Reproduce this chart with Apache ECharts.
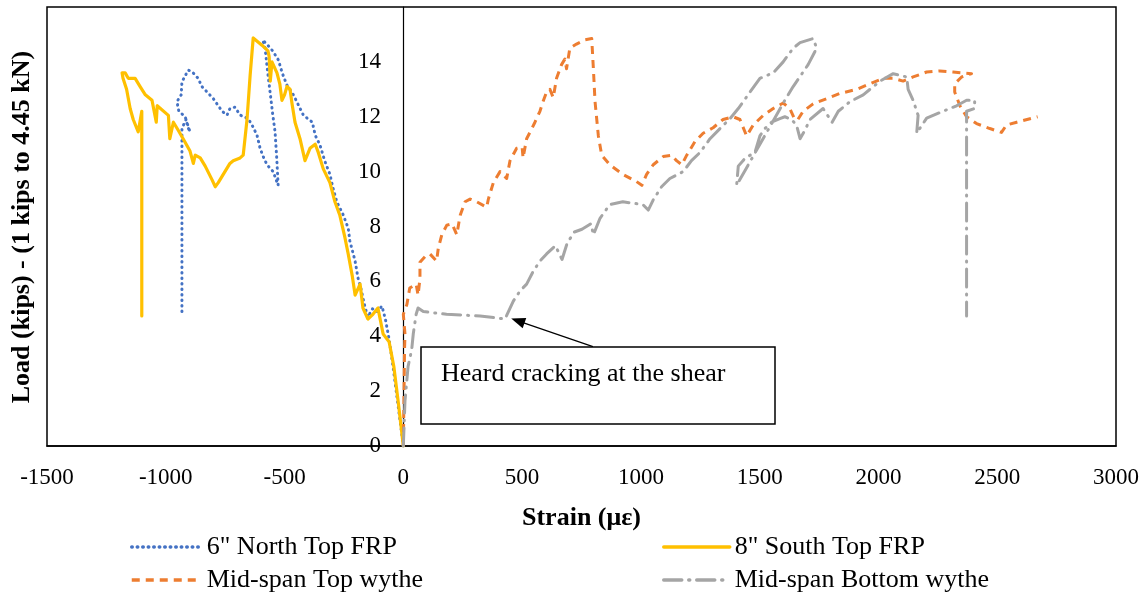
<!DOCTYPE html>
<html><head><meta charset="utf-8">
<script src="https://cdn.jsdelivr.net/npm/echarts@6/dist/echarts.min.js"></script>
<style>html,body{margin:0;padding:0;background:#fff}#c{width:1147px;height:595px}</style>
</head><body><div id="c"></div>
<script>
// ---- data (strain in microstrain, load in kips) ----
const seriesNames = ['6" North Top FRP', '8" South Top FRP', 'Mid-span Top wythe', 'Mid-span Bottom wythe'];

const northStrain = [0,-15,-30,-45,-60,-75,-90,-110,-130,-150,-165,-180,-191,-203,-225,-232,-254,-280,-296,-309,-330,-351,-371,-383,-421,-440,-463,-490,-510,-526,-550,-570,-592,
  -582,-572,-561,-550,-540,-533,-527,
  -548,-574,-590,-603,-616,-637,-653,-687,-709,-730,-742,-763,-779,-800,-826,-848,-864,-889,-905,-918,-932,-935,-953,-945,-918,-906,-898,-915,-932,-932,-932,-932,-932];
const northLoad = [0,1.0,2.0,3.0,3.9,4.6,5.1,4.9,5.0,4.7,5.2,5.8,6.13,6.74,7.47,7.94,8.44,8.9,9.4,9.9,10.37,10.97,11.33,11.8,12.06,12.4,12.8,13.15,13.6,14.07,14.4,14.6,14.8,
  14.5,13.7,12.9,12.1,11.45,10.5,9.5,
  10.0,10.25,10.55,10.85,11.33,11.7,11.93,12.06,12.35,12.3,12.06,12.2,12.4,12.66,12.9,13.1,13.4,13.64,13.7,13.5,13.27,12.8,12.55,12.2,12.0,11.6,11.45,11.9,11.57,10.0,8.0,6.0,4.8];

const southStrain = [0,-20,-40,-60,-85,-107,-128,-149,-170,-182,-203,-215,-232,-246,-267,-288,-309,-337,-358,-371,-393,-414,-435,-456,-469,-477,-490,-500,-511,-520,-532,-553,-560,-565,-570,-594,-632,
  -645,-658,-674,-687,-716,-730,-758,-779,-792,-805,-834,-855,-876,-884,-898,-927,-947,-968,-983,-989,-1036,-1040,-1058,-1086,-1108,-1129,-1158,-1171,-1184,-1180,-1165,-1150,-1137,-1116,-1101,-1101,-1101,-1101];
const southLoad = [0,1.5,2.9,3.8,4.08,5.03,4.8,4.63,5.03,5.9,5.5,6.2,7.0,7.6,8.4,8.9,9.6,10.1,10.7,11.0,10.85,10.4,11.2,11.8,12.5,13.0,13.1,12.8,12.6,13.2,13.6,14.0,13.3,14.2,14.4,14.6,14.87,
  13.5,11.9,10.6,10.5,10.4,10.3,9.9,9.6,9.45,9.7,10.2,10.5,10.6,10.3,10.75,11.2,11.5,11.8,11.2,12.05,12.4,11.8,12.6,12.8,13.1,13.4,13.4,13.6,13.6,13.4,13.0,12.3,11.9,11.45,12.2,9.0,6.0,4.74];

const topStrain = [0,3,5,7,0,15,27,54,62,70,70,91,112,140,147,162,183,205,225,239,260,281,309,351,358,379,407,435,449,477,500,504,519,540,554,575,588,603,617,631,645,666,680,687,701,729,764,793,
  800,807,821,835,869,924,981,1004,1024,1052,1094,1130,1150,1172,1193,1228,1262,1304,1346,1388,1417,1445,1473,1515,1557,1599,1627,1648,1661,1683,1725,1782,1838,1909,1964,2020,2062,2104,2146,2203,2258,2314,2392,
  2350,2321,2321,2343,2371,2413,2469,2518,2539,2582,2670];
const topLoad = [0,2,3.5,4.08,4.8,5.16,5.76,5.9,5.5,6.1,6.7,6.9,7.0,6.74,7.2,7.7,8.05,8.1,7.7,8.4,8.9,9.0,8.9,8.7,9.0,9.6,10.0,9.75,10.4,10.85,10.9,10.5,11.2,11.55,11.8,12.2,12.55,12.9,13.0,12.7,13.4,13.9,14.1,13.75,14.5,14.65,14.8,14.85,
  13.75,12.55,11.3,10.6,10.25,9.9,9.64,9.5,9.9,10.25,10.55,10.6,10.4,10.25,10.6,11.1,11.4,11.6,11.9,12.0,11.9,11.3,11.7,12.05,12.3,12.5,12.3,11.9,11.9,12.2,12.47,12.66,12.85,13.0,13.2,13.4,13.4,13.3,13.45,13.63,13.67,13.63,13.57,
  13.45,13.2,12.9,12.4,12.0,11.75,11.57,11.43,11.7,11.8,12.0];

const bottomStrain = [0,7,20,35,42,54,62,84,182,323,428,463,491,519,547,575,603,640,668,690,720,752,790,800,828,869,924,966,1008,1031,1052,1087,1122,1178,1213,1249,1291,1333,1375,1410,1431,1459,1501,1557,1599,1641,1670,1725,1740,1704,1641,1606,
  1403,1410,1440,1480,1501,1522,1550,1585,1606,1634,1655,1670,1690,1712,1767,1805,1831,1880,1936,2007,2062,2119,2125,2146,2167,2161,2203,2272,2329,2371,2405,2405,2371,2371,2371,2371];
const bottomLoad = [0,1.65,2.9,3.5,4.1,4.8,5.03,4.9,4.8,4.74,4.63,5.28,5.65,5.9,6.37,6.74,7.0,7.3,6.8,7.4,7.8,7.9,8.1,7.7,8.3,8.8,8.9,8.85,8.8,8.6,8.97,9.45,9.75,10.0,10.4,10.7,11.2,11.57,11.93,12.3,12.55,12.9,13.4,13.6,14.0,14.5,14.7,14.85,14.5,13.9,13.1,12.6,
  9.5,10.2,10.5,10.7,11.3,11.57,11.8,11.93,12.0,11.9,11.7,11.2,11.5,11.9,12.3,11.8,12.2,12.55,12.8,13.3,13.57,13.45,13.0,12.6,12.05,11.4,11.95,12.2,12.4,12.6,12.6,12.3,12.2,9.0,6.0,4.74];

const annotationText = 'Heard cracking at the shear';

function zip(xs, ys){ return xs.map((x,i)=>[x, ys[i]]); }

const FONT = "'Liberation Serif','Times New Roman',serif";
const chart = echarts.init(document.getElementById('c'));

function lineSeries(name, xs, ys, color, type, width, cap){
  return {
    name, type:'line', data: zip(xs, ys), showSymbol:false, symbol:'none',
    smooth:false, animation:false,
    lineStyle:{color, width, type, cap: cap||'butt', join:'round'},
    itemStyle:{color}
  };
}

const sBottom = lineSeries(seriesNames[3], bottomStrain, bottomLoad, '#A5A5A5', [18,7,1,7], 3, 'round');
sBottom.markLine = {
  silent:true, animation:false,
  symbol:['none','triangle'], symbolSize:[11,14],
  label:{show:false},
  lineStyle:{color:'#000', width:1.2, type:'solid'},
  data:[[{coord:[798,3.62]},{coord:[482,4.56]}]]
};

function oneLegend(name, left, top, w){
  return {data:[name], left, top, itemWidth:w, itemHeight:14, selectedMode:false,
    itemStyle:{opacity:0},
    lineStyle:{width:3.5},
    textStyle:{fontFamily:FONT, fontSize:26, color:'#000'}};
}

chart.setOption({
  animation:false,
  backgroundColor:'#fff',
  textStyle:{fontFamily:FONT},
  grid:{left:47, top:7, width:1069, height:439, show:true, borderColor:'#000', borderWidth:1.5, backgroundColor:'transparent'},
  xAxis:{
    type:'value', min:-1500, max:3000, interval:500,
    name:'Strain (με)', nameLocation:'middle', nameGap:59,
    nameTextStyle:{fontFamily:FONT, fontWeight:'bold', fontSize:26, color:'#000'},
    axisLine:{show:true, onZero:false, lineStyle:{color:'#000', width:1.5}},
    axisTick:{show:false},
    axisLabel:{fontFamily:FONT, fontSize:23, color:'#000', margin:20, formatter:(v)=>String(v)},
    splitLine:{show:false}
  },
  yAxis:{
    type:'value', min:0, max:16, interval:2,
    offset:-356,
    axisLine:{show:true, onZero:false, lineStyle:{color:'#000', width:1.2}},
    axisTick:{show:false},
    axisLabel:{fontFamily:FONT, fontSize:23, color:'#000', margin:22, showMaxLabel:false},
    splitLine:{show:false}
  },
  legend:[
    oneLegend(seriesNames[0], 125, 529, 70),
    oneLegend(seriesNames[2], 125, 562, 70),
    oneLegend(seriesNames[1], 657, 529, 66),
    oneLegend(seriesNames[3], 657, 562, 66)
  ],
  graphic:[
    {type:'text', x:22, y:227, rotation:Math.PI/2, z:10,
     style:{text:'Load (kips) - (1 kips to 4.45 kN)', font:"bold 26px 'Liberation Serif'", fill:'#000', align:'center', verticalAlign:'middle'}},
    {type:'rect', z:10, shape:{x:421, y:347, width:354, height:77}, style:{fill:'#fff', stroke:'#000', lineWidth:1.5}},
    {type:'text', z:11, x:441, y:374, style:{text:annotationText, font:"26px 'Liberation Serif'", fill:'#000', align:'left', verticalAlign:'middle'}}
  ],
  series:[
    lineSeries(seriesNames[0], northStrain, northLoad, '#4472C4', [0.5,5], 3, 'round'),
    lineSeries(seriesNames[1], southStrain, southLoad, '#FFC000', 'solid', 3.2, 'round'),
    lineSeries(seriesNames[2], topStrain, topLoad, '#ED7D31', [8,6], 3, 'butt'),
    sBottom
  ]
});
</script>
</body></html>
